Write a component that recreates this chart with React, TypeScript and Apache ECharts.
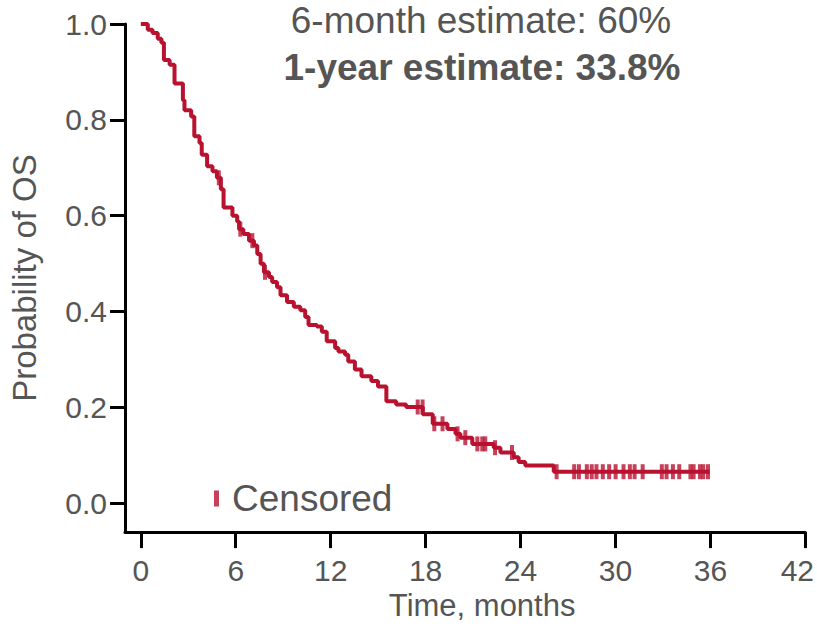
import React, { useEffect, useRef } from "react";
import * as echarts from "echarts";

// Kaplan–Meier step points: time (months) and survival probability after the step
const stepTimes = [
  0, 0.44, 0.74, 1.07, 1.3, 1.46, 1.82, 2.13, 2.66, 2.76, 3.18, 3.38, 3.71, 3.85,
  4.19, 4.53, 4.81, 5.06, 5.23, 5.79, 6.09, 6.21, 6.48, 6.84, 7.15, 7.36, 7.57, 7.78,
  8.1, 8.3, 8.61, 8.83, 9.24, 9.67, 10.08, 10.39, 10.6, 11.13, 11.44, 11.75, 12.28,
  12.49, 12.91, 13.11, 13.53, 13.95, 14.57, 14.99, 15.52, 16.14, 16.77, 17.82, 18.45,
  19.38, 19.89, 20.2, 20.95, 22.31, 22.73, 23.57, 23.88, 24.3, 26.1, 35.95,
];
const stepSurvival = [
  1.0, 0.988, 0.981, 0.969, 0.961, 0.925, 0.915, 0.876, 0.841, 0.82, 0.807, 0.766, 0.752,
  0.727, 0.703, 0.693, 0.679, 0.655, 0.617, 0.6, 0.588, 0.572, 0.562, 0.548, 0.538, 0.52,
  0.5, 0.482, 0.472, 0.462, 0.451, 0.434, 0.42, 0.41, 0.403, 0.389, 0.372, 0.369, 0.358,
  0.338, 0.324, 0.317, 0.31, 0.296, 0.279, 0.265, 0.255, 0.244, 0.213, 0.206, 0.201,
  0.186, 0.166, 0.155, 0.145, 0.137, 0.124, 0.116, 0.106, 0.096, 0.086, 0.079, 0.066,
  0.066,
];
// Censoring times (months)
const censorTimes = [
  4.93, 6.29, 7.05, 7.85, 17.5, 17.81, 18.55, 19.07, 20.02, 20.51, 21.27, 21.58, 21.77,
  22.39, 23.46, 26.28, 27.39, 27.69, 28.19, 28.5, 28.8, 29.2, 29.6, 30.01, 30.51, 30.91,
  31.21, 31.72, 32.93, 33.23, 33.63, 34.03, 34.74, 34.94, 35.34, 35.55, 35.85,
];
const xTicks = [0, 6, 12, 18, 24, 30, 36, 42];
const yTicks = [0, 0.2, 0.4, 0.6, 0.8, 1.0];
const headline1 = "6-month estimate: 60%";
const headline2 = "1-year estimate: 33.8%";

const RED = "#b8122f";
const GREY = "#555555";
const FONT = "'Liberation Sans', Arial, sans-serif";

function survivalAt(t: number): number {
  let p = stepSurvival[0];
  for (let i = 0; i < stepTimes.length; i++) {
    if (stepTimes[i] <= t) p = stepSurvival[i];
    else break;
  }
  return p;
}

export default function App() {
  const ref = useRef<HTMLDivElement>(null);
  useEffect(() => {
    if (!ref.current) return;
    const chart = echarts.init(ref.current, undefined, { renderer: "svg" });
    const curve = stepTimes.map((t, i) => [t, stepSurvival[i]]);
    const censors = censorTimes.map((t) => [t, survivalAt(t)]);
    const lastTick = xTicks[xTicks.length - 1];
    chart.setOption({
      animation: false,
      textStyle: { fontFamily: FONT },
      grid: { left: 125, right: 11, top: 24, bottom: 89, containLabel: false },
      graphic: [
        {
          type: "text",
          x: 481,
          y: 20,
          style: {
            text: headline1,
            align: "center",
            verticalAlign: "middle",
            fill: GREY,
            font: `normal 37px ${FONT}`,
          },
        },
        {
          type: "text",
          x: 482,
          y: 67,
          style: {
            text: headline2,
            align: "center",
            verticalAlign: "middle",
            fill: GREY,
            font: `bold 37px ${FONT}`,
          },
        },
      ],
      legend: {
        data: [{ name: "Censored", icon: "rect" }],
        left: 209,
        top: 475,
        itemWidth: 5,
        itemHeight: 16,
        textStyle: { fontSize: 37, color: GREY, fontFamily: FONT, padding: [0, 0, 0, 8] },
      },
      xAxis: {
        type: "value",
        min: -1,
        max: 42,
        name: "Time, months",
        nameLocation: "middle",
        nameGap: 55,
        nameTextStyle: { fontSize: 31, color: GREY, fontFamily: FONT, padding: [0, 0, 0, 34] },
        axisLine: { show: true, onZero: false, lineStyle: { color: "#000", width: 3 } },
        axisTick: { show: true, customValues: xTicks, length: 16, lineStyle: { color: "#000", width: 3 } },
        axisLabel: {
          customValues: xTicks,
          fontSize: 30,
          color: GREY,
          margin: 23,
          fontFamily: FONT,
          formatter: (v: number) => (v === lastTick ? `{m|${v}}` : String(v)),
          rich: { m: { fontSize: 30, color: GREY, fontFamily: FONT, padding: [0, 16, 0, 0] } },
        },
        splitLine: { show: false },
      },
      yAxis: {
        type: "value",
        min: -0.06,
        max: 1.0,
        name: "Probability of OS",
        nameLocation: "middle",
        nameGap: 84,
        nameRotate: 90,
        nameTextStyle: { fontSize: 33, color: GREY, fontFamily: FONT },
        axisLine: { show: true, onZero: false, lineStyle: { color: "#000", width: 3 } },
        axisTick: { show: true, customValues: yTicks, length: 15, lineStyle: { color: "#000", width: 3 } },
        axisLabel: {
          customValues: yTicks,
          fontSize: 30,
          color: GREY,
          margin: 18,
          fontFamily: FONT,
          formatter: (v: number) => v.toFixed(1),
        },
        splitLine: { show: false },
      },
      series: [
        {
          type: "line",
          name: "KM",
          step: "end",
          data: curve,
          symbol: "none",
          lineStyle: { color: RED, width: 4 },
          itemStyle: { color: RED },
          z: 2,
        },
        {
          type: "scatter",
          name: "Censored",
          data: censors,
          symbol: "rect",
          symbolSize: [4, 15],
          itemStyle: { color: RED },
          z: 3,
        },
      ],
    });
    return () => chart.dispose();
  }, []);
  return (
    <div
      ref={ref}
      style={{ position: "fixed", left: 0, top: 0, width: 817, height: 626, background: "#fff" }}
    />
  );
}
